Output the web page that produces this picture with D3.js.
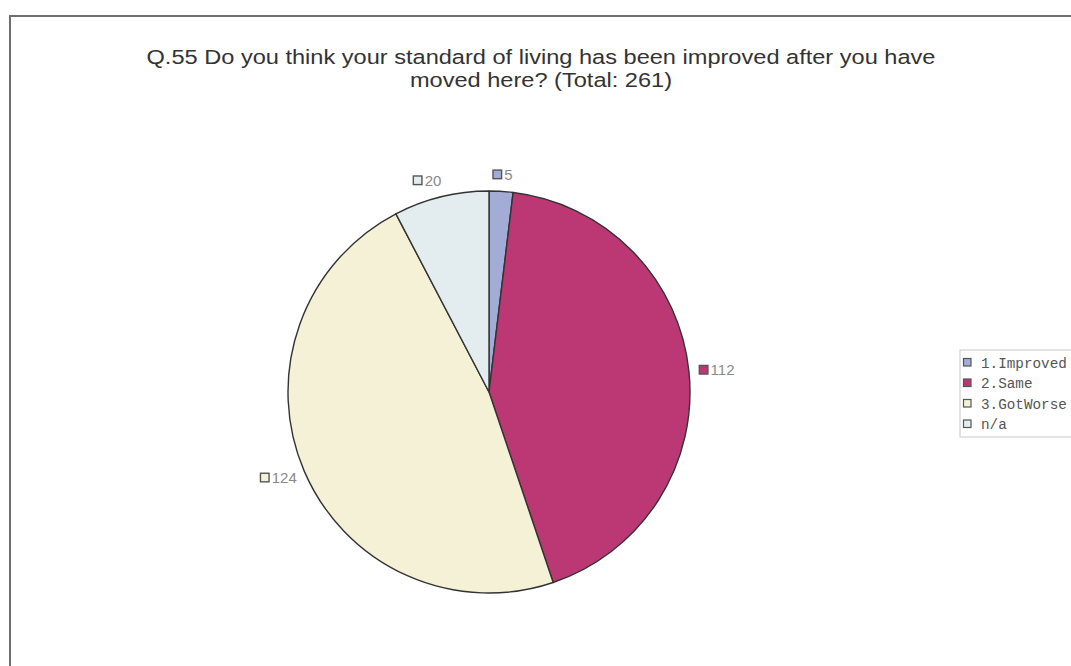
<!DOCTYPE html>
<html>
<head>
<meta charset="utf-8">
<script src="https://cdn.jsdelivr.net/npm/d3@7"></script>
<style>
  html, body { margin: 0; padding: 0; background: #fff; }
  svg { display: block; }
</style>
</head>
<body>
<svg id="chart" width="1071" height="666"></svg>
<script>
// Survey answers for Q.55
const categories = ["1.Improved", "2.Same", "3.GotWorse", "n/a"];
const counts = [5, 112, 124, 20];
const sliceColors = ["#a3acd6", "#bb3875", "#f5f1d6", "#e3ecef"];
const titleLines = [
  "Q.55 Do you think your standard of living has been improved after you have",
  "moved here? (Total: 261)"
];

const svg = d3.select("#chart");
const W = 1071, H = 666;

// Outer frame (runs off the right and bottom edges)
svg.append("rect")
  .attr("x", 10).attr("y", 16)
  .attr("width", W + 20).attr("height", H + 20)
  .attr("fill", "#fff")
  .attr("stroke", "#6e6e6e")
  .attr("stroke-width", 2);

// Title, slightly widened glyphs
const title = svg.append("g").selectAll("text")
  .data(titleLines)
  .join("text")
  .attr("x", 541)
  .attr("y", (d, i) => 64 + i * 23)
  .attr("text-anchor", "middle")
  .attr("font-family", "Liberation Sans, Arial, sans-serif")
  .attr("font-size", 20.5)
  .attr("fill", "#333")
  .text(d => d);
title.each(function() {
  const len = this.getComputedTextLength();
  d3.select(this)
    .attr("textLength", len * 1.15)
    .attr("lengthAdjust", "spacingAndGlyphs");
});

// Pie
const cx = 489, cy = 392, R = 201;
const pie = d3.pie().sort(null).value(d => d);
const arcs = pie(counts);
const arc = d3.arc().innerRadius(0).outerRadius(R);
const color = d3.scaleOrdinal().domain(categories).range(sliceColors);

const g = svg.append("g").attr("transform", `translate(${cx},${cy})`);
g.selectAll("path.slice")
  .data(arcs)
  .join("path")
  .attr("class", "slice")
  .attr("d", arc)
  .attr("fill", (d, i) => color(categories[i]))
  .attr("stroke", "#333")
  .attr("stroke-width", 1.4)
  .attr("stroke-linejoin", "round");

// Value labels outside each slice: small swatch + number
const labelR = 218;
const lab = g.selectAll("g.lbl")
  .data(arcs)
  .join("g")
  .attr("class", "lbl");

lab.each(function(d, i) {
  const sel = d3.select(this);
  const txt = sel.append("text")
    .attr("x", 12)
    .attr("dy", "0.36em")
    .attr("font-family", "Liberation Sans, Arial, sans-serif")
    .attr("font-size", 15)
    .attr("fill", "#8a8a8a")
    .text(d.value);
  const w = 12 + txt.node().getComputedTextLength();
  sel.insert("rect", "text")
    .attr("x", 0.7).attr("y", -4.3)
    .attr("width", 8.6).attr("height", 8.6)
    .attr("fill", color(categories[i]))
    .attr("stroke", "#555")
    .attr("stroke-width", 1.4);
  const a = (d.startAngle + d.endAngle) / 2;
  const s = Math.sin(a);
  const px = s * labelR;
  const py = -Math.cos(a) * labelR;
  const left = px - w / 2 + s * w * 0.3 - (s < 0 && s > -0.5 ? 8 : 0);
  sel.attr("transform", `translate(${left},${py})`);
});

// Legend
const lg = svg.append("g").attr("transform", "translate(960,350)");
lg.append("rect")
  .attr("x", 0).attr("y", 0)
  .attr("width", 130).attr("height", 87)
  .attr("fill", "#fff")
  .attr("stroke", "#c8c8c8")
  .attr("stroke-width", 1);
const items = lg.selectAll("g.item")
  .data(categories)
  .join("g")
  .attr("class", "item")
  .attr("transform", (d, i) => `translate(3,${12.5 + i * 20.5})`);
items.append("rect")
  .attr("x", 0.5).attr("y", -4)
  .attr("width", 7.5).attr("height", 7.5)
  .attr("fill", d => color(d))
  .attr("stroke", "#555")
  .attr("stroke-width", 1.2);
items.append("text")
  .attr("x", 18)
  .attr("dy", "0.35em")
  .attr("font-family", "Liberation Mono, Courier New, monospace")
  .attr("font-size", 14.3)
  .attr("fill", "#555")
  .text(d => d);
</script>
</body>
</html>
